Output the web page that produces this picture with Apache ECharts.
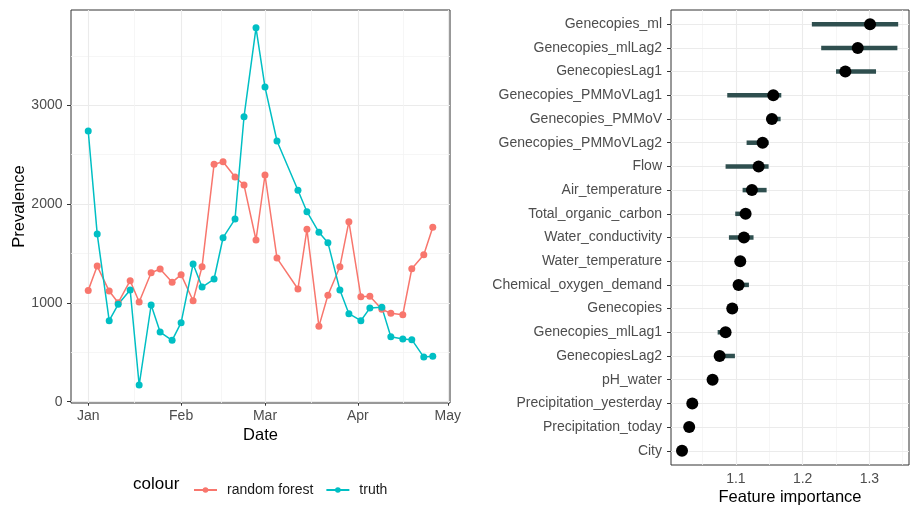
<!DOCTYPE html>
<html>
<head>
<meta charset="utf-8">
<script src="https://cdn.jsdelivr.net/npm/echarts@6/dist/echarts.min.js"></script>
<style>html,body{margin:0;padding:0;background:#fff;}#c{width:910px;height:506px;}</style>
</head>
<body>
<div id="c"></div>
<script>
// ---- Left panel data ----
const dates = ['2021-01-01','2021-01-04','2021-01-08','2021-01-11','2021-01-15','2021-01-18','2021-01-22','2021-01-25','2021-01-29','2021-02-01','2021-02-05','2021-02-08','2021-02-12','2021-02-15','2021-02-19','2021-02-22','2021-02-26','2021-03-01','2021-03-05','2021-03-12','2021-03-15','2021-03-19','2021-03-22','2021-03-26','2021-03-29','2021-04-02','2021-04-05','2021-04-09','2021-04-12','2021-04-16','2021-04-19','2021-04-23','2021-04-26'];
const randomForest = [1127,1373,1120,1002,1225,1009,1306,1343,1208,1286,1022,1367,2403,2429,2274,2193,1637,2295,1454,1141,1745,763,1077,1367,1822,1063,1067,935,895,881,1346,1488,1765];
const truth = [2740,1697,820,986,1131,169,979,705,621,800,1394,1161,1242,1660,1849,2885,3785,3185,2639,2140,1923,1715,1610,1131,891,820,948,955,658,635,628,452,459];
const prevTicks = [0,1000,2000,3000];
const prevMinor = [500,1500,2500,3500];
const monthTicks = ['2021-01-01','2021-02-01','2021-03-01','2021-04-01','2021-05-01'];
const monthMinor = ['2021-01-16T12:00:00Z','2021-02-14T12:00:00Z','2021-03-16T12:00:00Z','2021-04-16T00:00:00Z'];
const monthNames = ['Jan','Feb','Mar','Apr','May','Jun','Jul','Aug','Sep','Oct','Nov','Dec'];

// ---- Right panel data ----
const features = ['Genecopies_ml','Genecopies_mlLag2','GenecopiesLag1','Genecopies_PMMoVLag1','Genecopies_PMMoV','Genecopies_PMMoVLag2','Flow','Air_temperature','Total_organic_carbon','Water_conductivity','Water_temperature','Chemical_oxygen_demand','Genecopies','Genecopies_mlLag1','GenecopiesLag2','pH_water','Precipitation_yesterday','Precipitation_today','City'];
const importance = [1.301,1.2826,1.264,1.156,1.154,1.140,1.134,1.124,1.1145,1.112,1.1065,1.104,1.0945,1.0845,1.0756,1.065,1.0346,1.030,1.0192];
const impLower = [1.2138,1.2278,1.250,1.087,1.147,1.116,1.0845,1.11,1.099,1.0895,1.100,1.096,1.090,1.0726,1.070,1.0575,1.031,1.027,1.0192];
const impUpper = [1.3432,1.342,1.310,1.168,1.167,1.149,1.149,1.146,1.12,1.1264,1.112,1.1195,1.099,1.092,1.0985,1.068,1.038,1.033,1.021];
const impTicks = [1.1,1.2,1.3];
const impMinor = [1.05,1.15,1.25,1.35];

const ts = s => new Date(s).getTime();
const DAY = 86400000;
const FONT = '"Liberation Sans", Arial, Helvetica, sans-serif';
const majorGrid = {color:'#ebebeb', width:1.1, type:'solid'};
const minorGrid = {color:'#f4f4f4', width:0.8, type:'solid'};

function gridLines(axisKey, majors, minors){
  const d = [];
  minors.forEach(v => d.push({[axisKey]: v, lineStyle: minorGrid}));
  majors.forEach(v => d.push({[axisKey]: v, lineStyle: majorGrid}));
  return d;
}

const chart = echarts.init(document.getElementById('c'), null, {renderer:'canvas'});
const axisLabelStyle = {color:'#4d4d4d', fontSize:14, fontFamily:FONT};
const tickStyle = {show:true, length:4, lineStyle:{color:'#333333', width:1}};
const nameStyle = {fontSize:16.5, color:'#000', fontFamily:FONT};

const xMin = ts(dates[0]) - 5.75*DAY, xMax = ts(dates[dates.length-1]) + 5.75*DAY;

const option = {
  animation:false,
  textStyle:{fontFamily:FONT},
  grid:[
    {left:71, right:460, top:10, bottom:103, show:true, borderColor:'#333333', borderWidth:1, backgroundColor:'#fff', outerBoundsMode:'none', containLabel:false},
    {left:671, right:1, top:10, bottom:41, show:true, borderColor:'#333333', borderWidth:1, backgroundColor:'#fff', outerBoundsMode:'none', containLabel:false}
  ],
  graphic:[
    {type:'text', left:133, top:476, style:{text:'colour', fontSize:17, fontFamily:FONT, fill:'#000'}}
  ],
  legend:{
    data:['random forest','truth'],
    left:188, top:478, itemWidth:23, itemHeight:7, itemGap:12,
    textStyle:{fontSize:14, color:'#1a1a1a', fontFamily:FONT, padding:[0,0,0,5]}
  },
  xAxis:[
    {type:'value', gridIndex:0, min:xMin, max:xMax,
     name:'Date', nameLocation:'middle', nameGap:24, nameMoveOverlap:false, nameTextStyle:nameStyle,
     axisLine:{show:false}, splitLine:{show:false},
     axisTick:Object.assign({customValues:monthTicks.map(ts)}, tickStyle),
     axisLabel:Object.assign({margin:6, customValues:monthTicks.map(ts), formatter:v=>monthNames[new Date(v).getUTCMonth()]}, axisLabelStyle)},
    {type:'value', gridIndex:1, min:1.0027, max:1.3594,
     name:'Feature importance', nameLocation:'middle', nameGap:24, nameMoveOverlap:false, nameTextStyle:nameStyle,
     axisLine:{show:false}, splitLine:{show:false},
     axisTick:Object.assign({customValues:impTicks}, tickStyle),
     axisLabel:Object.assign({margin:7, customValues:impTicks, formatter:v=>v.toFixed(1)}, axisLabelStyle)}
  ],
  yAxis:[
    {type:'value', gridIndex:0, min:-13, max:3965,
     name:'Prevalence', nameLocation:'middle', nameGap:43, nameMoveOverlap:false, nameTextStyle:nameStyle,
     axisLine:{show:false}, splitLine:{show:false},
     axisTick:Object.assign({customValues:prevTicks}, tickStyle),
     axisLabel:Object.assign({margin:8.5, customValues:prevTicks, formatter:v=>String(Math.round(v))}, axisLabelStyle)},
    {type:'value', gridIndex:1, min:-0.6, max:features.length-1+0.6, inverse:true,
     axisLine:{show:false}, splitLine:{show:false},
     axisTick:Object.assign({customValues:features.map((f,i)=>i)}, tickStyle),
     axisLabel:Object.assign({margin:9, customValues:features.map((f,i)=>i), formatter:v=>features[Math.round(v)]}, axisLabelStyle)}
  ],
  series:[
    {type:'line', xAxisIndex:0, yAxisIndex:0, data:[], silent:true, z:0,
     markLine:{silent:true, z:1, symbol:'none', label:{show:false}, animation:false,
       data: gridLines('yAxis', prevTicks, prevMinor).concat(gridLines('xAxis', monthTicks.map(ts), monthMinor.map(ts)))}},
    {type:'line', xAxisIndex:1, yAxisIndex:1, data:[], silent:true, z:0,
     markLine:{silent:true, z:1, symbol:'none', label:{show:false}, animation:false,
       data: gridLines('xAxis', impTicks, impMinor).concat(gridLines('yAxis', features.map((f,i)=>i), []))}},
    {name:'random forest', type:'line', xAxisIndex:0, yAxisIndex:0, z:3,
     data: dates.map((d,i)=>[ts(d), randomForest[i]]),
     symbol:'circle', symbolSize:7, showSymbol:true,
     lineStyle:{color:'#F8766D', width:1.5}, itemStyle:{color:'#F8766D', opacity:1}},
    {name:'truth', type:'line', xAxisIndex:0, yAxisIndex:0, z:3,
     data: dates.map((d,i)=>[ts(d), truth[i]]),
     symbol:'circle', symbolSize:7, showSymbol:true,
     lineStyle:{color:'#00BFC4', width:1.5}, itemStyle:{color:'#00BFC4', opacity:1}},
    {type:'custom', xAxisIndex:1, yAxisIndex:1, z:3,
     data: features.map((f,i)=>[impLower[i], impUpper[i], i]),
     encode:{x:[0,1], y:2},
     renderItem:(params, api)=>{
       const a = api.coord([api.value(0), api.value(2)]);
       const b = api.coord([api.value(1), api.value(2)]);
       return {type:'line', shape:{x1:a[0], y1:a[1], x2:b[0], y2:b[1]},
               style:{stroke:'#2F4F4F', lineWidth:4.5, lineCap:'butt'}};
     }},
    {type:'scatter', xAxisIndex:1, yAxisIndex:1, z:4,
     data: features.map((f,i)=>[importance[i], i]),
     symbol:'circle', symbolSize:12, itemStyle:{color:'#000', opacity:1}}
  ]
};
chart.setOption(option);
</script>
</body>
</html>
